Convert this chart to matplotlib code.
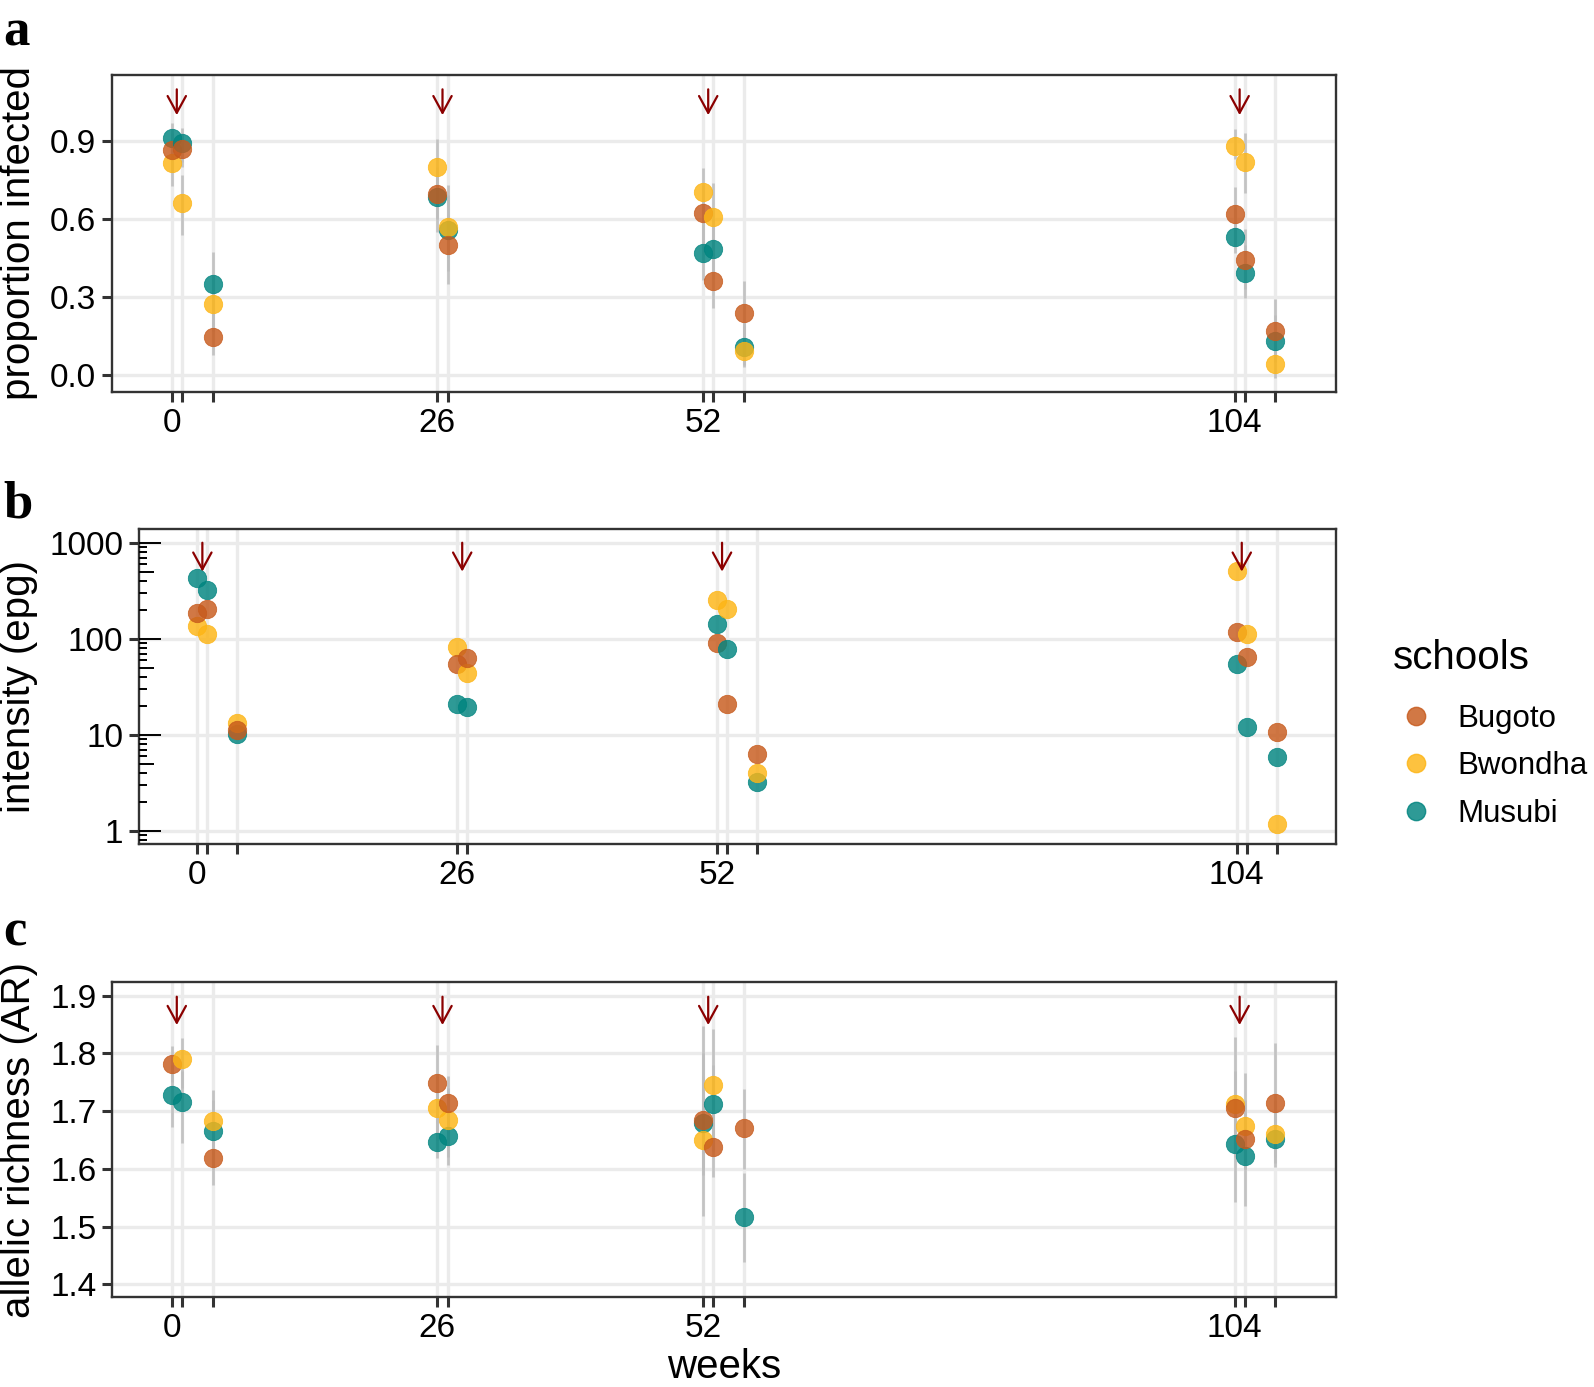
import numpy as np
import matplotlib
matplotlib.use("Agg")
import matplotlib.pyplot as plt
from matplotlib.lines import Line2D

plt.rcParams['font.family'] = ['Liberation Sans', 'DejaVu Sans']

# ---------------- data ----------------
weeks = [0, 1, 4, 26, 27, 52, 53, 56, 104, 105, 108]
week_labels = ['0', '', '', '26', '', '52', '', '', '104', '', '']
treatment_weeks = [0.5, 26.5, 52.5, 104.5]
schools = ['Bugoto', 'Bwondha', 'Musubi']
nan = np.nan

# (a) proportion infected
prop_bugoto = [0.864, 0.868, 0.148, 0.694, 0.500, 0.624, 0.363, 0.238, 0.619, 0.442, 0.170]
prop_bwondha = [0.813, 0.660, 0.272, 0.800, 0.570, 0.702, 0.608, 0.094, 0.880, 0.820, 0.042]
prop_musubi = [0.911, 0.890, 0.350, 0.683, 0.557, 0.470, 0.484, 0.110, 0.530, 0.391, 0.132]
prop_lo_bugoto = [0.78, 0.80, 0.078, 0.60, 0.40, 0.50, 0.257, 0.13, 0.50, 0.33, 0.08]
prop_hi_bugoto = [0.93, 0.93, 0.24, 0.78, 0.62, 0.73, 0.47, 0.363, 0.723, 0.56, 0.291]
prop_lo_bwondha = [0.726, 0.538, 0.17, 0.70, 0.45, 0.58, 0.48, 0.031, 0.83, 0.70, -0.012]
prop_hi_bwondha = [0.89, 0.77, 0.38, 0.905, 0.69, 0.794, 0.739, 0.19, 0.944, 0.928, 0.12]
prop_lo_musubi = [0.85, 0.82, 0.24, 0.551, 0.350, 0.366, 0.37, 0.04, 0.469, 0.295, 0.05]
prop_hi_musubi = [0.967, 0.947, 0.474, 0.80, 0.730, 0.58, 0.60, 0.20, 0.64, 0.50, 0.23]

# (b) intensity (epg)
epg_bugoto = [184, 205, 11.2, 54.1, 63.4, 89.6, 20.7, 6.34, 117, 64, 10.7]
epg_bwondha = [137, 112, 13.1, 81.3, 43.6, 253, 202, 4.02, 507, 112, 1.17]
epg_musubi = [432, 322, 10.2, 20.9, 19.3, 143, 77.6, 3.24, 54, 12.1, 5.82]

# (c) allelic richness
ar_bugoto = [1.782, nan, 1.619, 1.748, 1.714, 1.684, 1.638, 1.670, 1.705, 1.652, 1.714]
ar_bwondha = [nan, 1.790, 1.682, 1.705, 1.684, 1.650, 1.745, nan, 1.712, 1.674, 1.660]
ar_musubi = [1.728, 1.715, 1.666, 1.647, 1.656, 1.679, 1.712, 1.516, 1.643, 1.623, 1.651]
ar_lo_bugoto = [1.75, nan, 1.572, 1.68, 1.66, 1.60, 1.586, 1.600, 1.62, 1.60, 1.603]
ar_hi_bugoto = [1.812, nan, 1.67, 1.815, 1.760, 1.80, 1.70, 1.738, 1.828, 1.72, 1.818]
ar_lo_bwondha = [nan, 1.74, 1.64, 1.65, 1.62, 1.519, 1.65, nan, 1.65, 1.60, 1.62]
ar_hi_bwondha = [nan, 1.826, 1.736, 1.76, 1.74, 1.848, 1.842, nan, 1.77, 1.766, 1.72]
ar_lo_musubi = [1.672, 1.645, 1.60, 1.618, 1.607, 1.59, 1.63, 1.439, 1.543, 1.536, 1.61]
ar_hi_musubi = [1.78, 1.77, 1.72, 1.70, 1.70, 1.76, 1.78, 1.592, 1.72, 1.68, 1.70]

# ---------------- style ----------------
colors = {'Bugoto': '#C75A1C', 'Bwondha': '#FDB515', 'Musubi': '#00847F'}
draw_order = ['Musubi', 'Bwondha', 'Bugoto']
ALPHA = 0.82
MS = 175
GRID = '#EBEBEB'
SPINE = '#333333'
TICK_FS = 24
TITLE_FS = 29
LEG_FS = 22.5

W, H = 1594, 1387
fig = plt.figure(figsize=(W / 100, H / 100), dpi=100)


def px_axes(l, t, r, b):
    return fig.add_axes([l / W, 1 - b / H, (r - l) / W, (b - t) / H])


ax_a = px_axes(112.3, 75, 1335.7, 391.7)
ax_b = px_axes(139.3, 529.3, 1335.7, 844.3)
ax_c = px_axes(112.3, 982.3, 1335.7, 1297.3)


def style(ax, yticks, yticklabels):
    ax.set_xlim(-5.81, 113.9)
    ax.set_xticks(weeks)
    ax.set_xticklabels(week_labels)
    ax.set_yticks(yticks)
    ax.set_yticklabels(yticklabels)
    ax.minorticks_off()
    ax.tick_params(axis='both', which='major', length=7.5, width=2.2,
                   color=SPINE, labelsize=TICK_FS, labelcolor='black', pad=4)
    ax.grid(True, which='major', color=GRID, lw=2.4, zorder=0)
    ax.set_axisbelow(True)
    for s in ax.spines.values():
        s.set_color(SPINE)
        s.set_linewidth(1.7)
        s.set_zorder(10)


def plot_points(ax, series, lo=None, hi=None):
    x = np.array(weeks, dtype=float)
    if lo is not None:
        for name in draw_order:
            ax.vlines(x, lo[name], hi[name], color='#BDBDBD', lw=2.0,
                      alpha=0.85, zorder=2)
    z = 3
    for i in range(len(weeks)):
        for name in draw_order:
            v = series[name][i]
            if np.isnan(v):
                continue
            ax.scatter([x[i]], [v], s=MS, color=colors[name], alpha=ALPHA,
                       edgecolors=colors[name], linewidths=0.6, zorder=z)
            z += 0.01


def arrows(ax, top, tip):
    for w in treatment_weeks:
        ax.annotate('', xy=(w, tip), xytext=(w, top),
                    arrowprops=dict(arrowstyle='->,head_length=0.55,head_width=0.3',
                                    color='#8B0000', lw=1.6, mutation_scale=22,
                                    shrinkA=0, shrinkB=0), zorder=20)


# panel a
style(ax_a, [0.0, 0.3, 0.6, 0.9], ['0.0', '0.3', '0.6', '0.9'])
ax_a.set_ylim(-0.063, 1.152)
plot_points(ax_a,
            {'Bugoto': np.array(prop_bugoto), 'Bwondha': np.array(prop_bwondha),
             'Musubi': np.array(prop_musubi)},
            {'Bugoto': np.array(prop_lo_bugoto), 'Bwondha': np.array(prop_lo_bwondha),
             'Musubi': np.array(prop_lo_musubi)},
            {'Bugoto': np.array(prop_hi_bugoto), 'Bwondha': np.array(prop_hi_bwondha),
             'Musubi': np.array(prop_hi_musubi)})
arrows(ax_a, 1.097, 0.998)
ax_a.set_ylabel('proportion infected', fontsize=TITLE_FS)
ax_a.yaxis.set_label_coords((19 - 112.3) / 1223.4, 0.5)
ax_a.yaxis.label.set_va('center')

# panel b
ax_b.set_yscale('log')
style(ax_b, [1, 10, 100, 1000], ['1', '10', '100', '1000'])
ax_b.set_ylim(10 ** -0.142, 10 ** 3.14)
plot_points(ax_b, {'Bugoto': np.array(epg_bugoto, float),
                   'Bwondha': np.array(epg_bwondha, float),
                   'Musubi': np.array(epg_musubi, float)})
arrows(ax_b, 1000, 500)
# log ticks inside the panel (short/mid/long)
wpx = 1335.7 - 139.3
trans = ax_b.get_yaxis_transform()
for dec in [0.1, 1, 10, 100, 1000]:
    for m in range(1, 10):
        v = dec * m
        if m == 1:
            L = 22 / wpx
        elif m == 5:
            L = 14.7 / wpx
        else:
            L = 7.3 / wpx
        ax_b.plot([0, L], [v, v], color='black', lw=1.4, transform=trans,
                  solid_capstyle='butt', zorder=11, clip_on=True)
ax_b.set_ylabel('intensity (epg)', fontsize=TITLE_FS)
ax_b.yaxis.set_label_coords((19 - 139.3) / 1196.4, 0.5)
ax_b.yaxis.label.set_va('center')

# panel c
style(ax_c, [1.4, 1.5, 1.6, 1.7, 1.8, 1.9], ['1.4', '1.5', '1.6', '1.7', '1.8', '1.9'])
ax_c.set_ylim(1.3775, 1.923)
plot_points(ax_c,
            {'Bugoto': np.array(ar_bugoto), 'Bwondha': np.array(ar_bwondha),
             'Musubi': np.array(ar_musubi)},
            {'Bugoto': np.array(ar_lo_bugoto), 'Bwondha': np.array(ar_lo_bwondha),
             'Musubi': np.array(ar_lo_musubi)},
            {'Bugoto': np.array(ar_hi_bugoto), 'Bwondha': np.array(ar_hi_bwondha),
             'Musubi': np.array(ar_hi_musubi)})
arrows(ax_c, 1.898, 1.849)
ax_c.set_ylabel('allelic richness (AR)', fontsize=TITLE_FS)
ax_c.yaxis.set_label_coords((19 - 112.3) / 1223.4, 0.5)
ax_c.yaxis.label.set_va('center')
ax_c.set_xlabel('weeks', fontsize=TITLE_FS)
ax_c.xaxis.set_label_coords(0.5, (1297.3 - 1378) / 315)
ax_c.xaxis.label.set_va('baseline')

# panel letters
for letter, yb in [('a', 46), ('b', 518), ('c', 946)]:
    fig.text(3 / W, 1 - yb / H, letter, fontsize=38, fontweight='bold',
             family='Liberation Serif', ha='left', va='baseline')

# legend
fig.text(1393 / W, 1 - 658 / H, 'schools', fontsize=TITLE_FS,
         ha='left', va='center')
handles = [Line2D([], [], marker='o', linestyle='none', markersize=13.2,
                  markerfacecolor=colors[n], markeredgecolor=colors[n], alpha=ALPHA)
           for n in schools]
leg = fig.legend(handles, schools, loc='center left',
                 bbox_to_anchor=(1393 / W, 1 - 766 / H), frameon=False,
                 fontsize=LEG_FS, handlelength=1.45,
                 handletextpad=0.62, labelspacing=0.56, borderpad=0,
                 borderaxespad=0)

fig.savefig('out.png', dpi=100)
